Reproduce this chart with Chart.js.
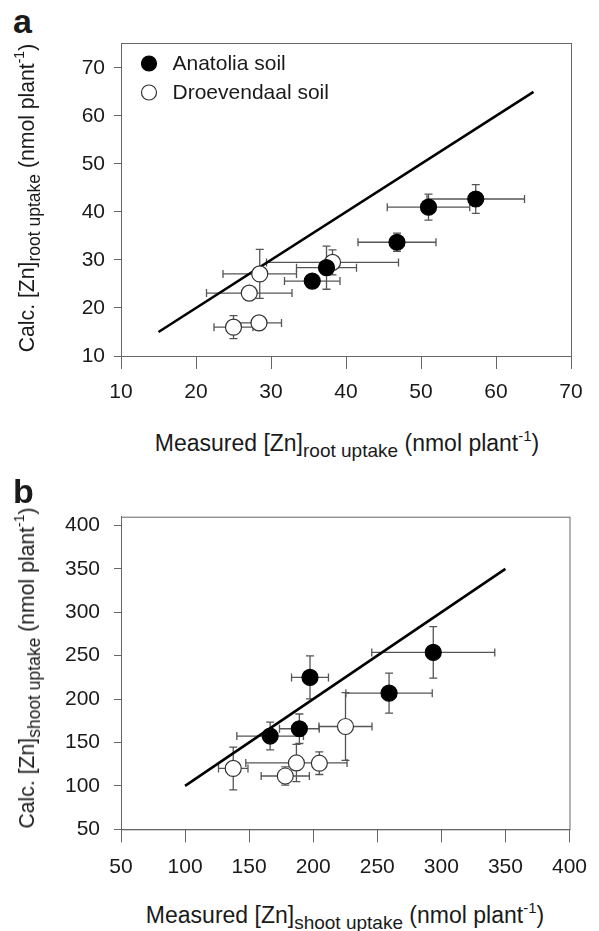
<!DOCTYPE html>
<html>
<head>
<meta charset="utf-8">
<script src="https://cdn.jsdelivr.net/npm/chart.js@4.4.0/dist/chart.umd.min.js"></script>
<style>
  body { margin: 0; background: #fff; }
  #wrap { position: relative; width: 599px; height: 931px; font-family: "Liberation Sans", Arial, sans-serif; color: #1a1a1a; }
  canvas { position: absolute; left: 0; }
  .lbl { position: absolute; white-space: nowrap; font-size: 23px; line-height: 23px; }
  .xt { transform: translateX(-50%); }
  .yt { font-size: 21.2px; line-height: 22px; transform: translate(-50%, -50%) rotate(-90deg); }
  .sub { font-size: 19px; position: relative; top: 6px; }
  .yt .sub { font-size: 17.5px; }
  .sup { font-size: 15px; position: relative; top: -10px; }
  .yt .sup { font-size: 14px; }
  .panel { position: absolute; left: 13px; font-weight: bold; font-size: 34px; line-height: 34px; }
</style>
</head>
<body>
<div id="wrap">
  <div class="panel" style="top:4px">a</div>
  <canvas id="rootChart" width="599" height="420" style="top:0"></canvas>
  <div class="lbl xt" style="left:347px; top:432px">Measured [Zn]<span class="sub">root uptake</span> (nmol plant<span class="sup">-1</span>)</div>
  <div class="lbl yt" style="left:28px; top:198px">Calc. [Zn]<span class="sub">root uptake</span> (nmol plant<span class="sup">-1</span>)</div>

  <div class="panel" style="top:474px">b</div>
  <canvas id="shootChart" width="599" height="420" style="top:470px"></canvas>
  <div class="lbl xt" style="left:345px; top:904px">Measured [Zn]<span class="sub">shoot uptake</span> (nmol plant<span class="sup">-1</span>)</div>
  <div class="lbl yt" style="left:28px; top:668px">Calc. [Zn]<span class="sub">shoot uptake</span> (nmol plant<span class="sup">-1</span>)</div>
</div>
<script>
// panel a: root uptake
const rootAnatoliaX = [35.5, 37.4, 46.8, 51.0, 57.3];
const rootAnatoliaY = [25.6, 28.4, 33.7, 41.0, 42.7];
const rootAnatoliaXErr = [3.7, 4.0, 5.2, 5.5, 6.5];
const rootAnatoliaYErr = [0.8, 4.5, 1.9, 2.7, 3.0];
const rootDroevX = [25.0, 28.4, 27.1, 28.5, 38.2];
const rootDroevY = [16.0, 16.9, 23.1, 27.1, 29.5];
const rootDroevXErr = [2.6, 3.0, 5.7, 4.9, 8.8];
const rootDroevYErr = [2.4, 0.8, 1.0, 5.1, 2.6];
const rootOneToOne = [15, 65];
const rootXRange = [10, 70];
const rootYRange = [10, 75.2];
const rootStep = 10;

// panel b: shoot uptake
const shootAnatoliaX = [166.4, 189.2, 197.5, 259.2, 293.7];
const shootAnatoliaY = [157.4, 165.8, 224.9, 206.8, 253.7];
const shootAnatoliaXErr = [26, 15.5, 14.4, 33.7, 48];
const shootAnatoliaYErr = [16, 17, 24.8, 23, 29.6];
const shootDroevX = [137.6, 178.2, 186.9, 204.8, 225.2];
const shootDroevY = [120.1, 111.4, 126.4, 126.1, 168.4];
const shootDroevXErr = [11.5, 18.8, 39.5, 5, 20.7];
const shootDroevYErr = [24.6, 10.5, 21.5, 13, 39];
const shootOneToOne = [100, 350];
const shootXRange = [50, 400];
const shootYRange = [50, 410];
const shootStep = 50;

const seriesNames = ['Anatolia soil', 'Droevendaal soil'];
const FONT = '"Liberation Sans", Arial, sans-serif';
const AXIS_GREY = '#666';

const toPoints = (xs, ys) => xs.map((x, i) => ({ x: x, y: ys[i] }));

// error bars drawn underneath the markers
const errorBars = {
    id: 'errorBars',
    beforeDatasetsDraw(chart) {
        const { ctx, scales: { x, y } } = chart;
        const cap = 4;
        ctx.save();
        ctx.strokeStyle = '#555';
        ctx.lineWidth = 1.3;
        chart.data.datasets.forEach(ds => {
            if (!ds.xErr) return;
            ds.data.forEach((p, j) => {
                const px = x.getPixelForValue(p.x);
                const py = y.getPixelForValue(p.y);
                const x0 = x.getPixelForValue(p.x - ds.xErr[j]);
                const x1 = x.getPixelForValue(p.x + ds.xErr[j]);
                const y0 = y.getPixelForValue(p.y - ds.yErr[j]);
                const y1 = y.getPixelForValue(p.y + ds.yErr[j]);
                ctx.beginPath();
                ctx.moveTo(x0, py); ctx.lineTo(x1, py);
                ctx.moveTo(x0, py - cap); ctx.lineTo(x0, py + cap);
                ctx.moveTo(x1, py - cap); ctx.lineTo(x1, py + cap);
                ctx.moveTo(px, y0); ctx.lineTo(px, y1);
                ctx.moveTo(px - cap, y0); ctx.lineTo(px + cap, y0);
                ctx.moveTo(px - cap, y1); ctx.lineTo(px + cap, y1);
                ctx.stroke();
            });
        });
        ctx.restore();
    }
};

// box around the plot area
const frame = {
    id: 'frame',
    beforeDatasetsDraw(chart) {
        const { ctx, chartArea: a } = chart;
        ctx.save();
        ctx.strokeStyle = AXIS_GREY;
        ctx.lineWidth = 1;
        ctx.strokeRect(a.left + 0.5, a.top + 0.5, a.right - a.left, a.bottom - a.top);
        ctx.restore();
    }
};

// legend in the top left corner of panel a
const cornerLegend = {
    id: 'cornerLegend',
    afterDatasetsDraw(chart) {
        const { ctx, chartArea: a } = chart;
        ctx.save();
        ctx.font = '21px ' + FONT;
        ctx.textBaseline = 'middle';
        let row = 0;
        chart.data.datasets.forEach(ds => {
            if (!ds.xErr) return;
            const cx = a.left + 28, cy = a.top + 20.5 + row * 29;
            ctx.beginPath();
            ctx.arc(cx, cy, 7.5, 0, Math.PI * 2);
            ctx.fillStyle = ds.pointBackgroundColor;
            ctx.fill();
            ctx.strokeStyle = ds.pointBorderColor;
            ctx.lineWidth = 1.2;
            ctx.stroke();
            ctx.fillStyle = '#1a1a1a';
            ctx.fillText(ds.label, cx + 23.5, cy + 1);
            row++;
        });
        ctx.restore();
    }
};

function buildChart(canvasId, p) {
    const datasets = [
        {
            label: seriesNames[0],
            data: toPoints(p.ax, p.ay),
            xErr: p.axErr, yErr: p.ayErr,
            pointRadius: 8, pointBorderWidth: 1.2,
            pointBackgroundColor: '#000', pointBorderColor: '#000',
            order: 0
        },
        {
            label: seriesNames[1],
            data: toPoints(p.dx, p.dy),
            xErr: p.dxErr, yErr: p.dyErr,
            pointRadius: 8, pointBorderWidth: 1.2,
            pointBackgroundColor: '#fff', pointBorderColor: '#333',
            order: 1
        },
        {
            label: '1:1',
            data: toPoints(p.line, p.line),
            showLine: true, pointRadius: 0,
            borderColor: '#000', borderWidth: 2.6,
            order: 2
        }
    ];

    return new Chart(document.getElementById(canvasId), {
        type: 'scatter',
        data: { datasets: datasets },
        plugins: p.plugins,
        options: {
            responsive: false,
            animation: false,
            layout: { padding: { top: p.top, right: 28, left: 0, bottom: 0 } },
            plugins: { legend: { display: false }, tooltip: { enabled: false } },
            scales: {
                x: {
                    type: 'linear', min: p.xr[0], max: p.xr[1],
                    grid: { drawOnChartArea: false, tickLength: 13, color: AXIS_GREY },
                    border: { color: AXIS_GREY },
                    ticks: {
                        stepSize: p.step, includeBounds: false, maxRotation: 0,
                        padding: p.xPad, color: '#1a1a1a', font: { size: 21, family: FONT }
                    },
                    afterFit: s => { s.height = p.xHeight; }
                },
                y: {
                    type: 'linear', min: p.yr[0], max: p.yr[1],
                    grid: { drawOnChartArea: false, tickLength: 7, color: AXIS_GREY },
                    border: { color: AXIS_GREY },
                    ticks: {
                        stepSize: p.step, includeBounds: false,
                        padding: p.yPad, color: '#1a1a1a', font: { size: 21, family: FONT }
                    },
                    afterFit: s => { s.width = 121; }
                }
            }
        }
    });
}

buildChart('rootChart', {
    ax: rootAnatoliaX, ay: rootAnatoliaY, axErr: rootAnatoliaXErr, ayErr: rootAnatoliaYErr,
    dx: rootDroevX, dy: rootDroevY, dxErr: rootDroevXErr, dyErr: rootDroevYErr,
    line: rootOneToOne, xr: rootXRange, yr: rootYRange, step: rootStep,
    top: 43, xHeight: 64, xPad: 11, yPad: 9,
    plugins: [frame, errorBars, cornerLegend]
});

buildChart('shootChart', {
    ax: shootAnatoliaX, ay: shootAnatoliaY, axErr: shootAnatoliaXErr, ayErr: shootAnatoliaYErr,
    dx: shootDroevX, dy: shootDroevY, dxErr: shootDroevXErr, dyErr: shootDroevYErr,
    line: shootOneToOne, xr: shootXRange, yr: shootYRange, step: shootStep,
    top: 46.7, xHeight: 60.7, xPad: 12, yPad: 14,
    plugins: [frame, errorBars]
});
</script>
</body>
</html>
